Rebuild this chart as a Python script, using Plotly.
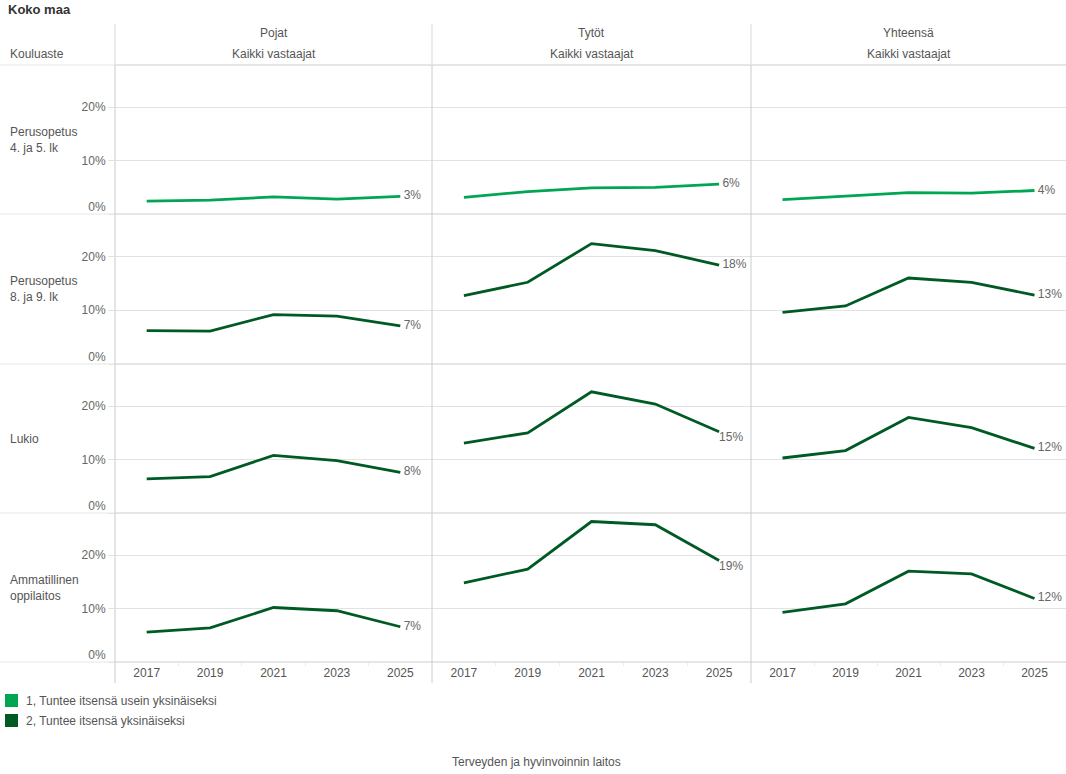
import plotly.graph_objects as go

# ---------------- data ----------------
YEARS = [2017, 2019, 2021, 2023, 2025]
GENDERS = ["Pojat", "Tytöt", "Yhteensä"]
SUBHEADER = "Kaikki vastaajat"
LEVELS = ["Perusopetus<br>4. ja 5. lk", "Perusopetus<br>8. ja 9. lk", "Lukio",
          "Ammatillinen<br>oppilaitos"]
SERIES = ["1, Tuntee itsensä usein yksinäiseksi", "2, Tuntee itsensä yksinäiseksi"]
LEVEL_SERIES = [0, 1, 1, 1]
Y_TICKS = [0, 10, 20]

# values in percent
perus45_pojat = [2.4, 2.6, 3.2, 2.8, 3.3]
perus45_tytot = [3.1, 4.2, 4.9, 5.0, 5.6]
perus45_yht = [2.7, 3.3, 4.0, 3.9, 4.4]

perus89_pojat = [6.2, 6.1, 9.2, 8.9, 7.1]
perus89_tytot = [12.7, 15.2, 22.4, 21.1, 18.4]
perus89_yht = [9.6, 10.8, 16.0, 15.2, 12.8]

lukio_pojat = [6.4, 6.8, 10.8, 9.8, 7.6]
lukio_tytot = [13.1, 15.0, 22.7, 20.4, 15.2]
lukio_yht = [10.3, 11.7, 17.9, 16.0, 12.1]

amm_pojat = [5.6, 6.4, 10.2, 9.6, 6.6]
amm_tytot = [14.8, 17.4, 26.3, 25.7, 19.0]
amm_yht = [9.3, 10.9, 17.0, 16.5, 11.9]

VALUES = [
    [perus45_pojat, perus45_tytot, perus45_yht],
    [perus89_pojat, perus89_tytot, perus89_yht],
    [lukio_pojat, lukio_tytot, lukio_yht],
    [amm_pojat, amm_tytot, amm_yht],
]

# ---------------- style / layout ----------------
W, H = 1066, 774
FONT = "Liberation Sans, Arial, sans-serif"
COLORS = ["#00A651", "#005A24"]
COL_EDGES = [115, 432, 751, 1066]
ROW_EDGES = [65, 214, 364, 513, 662]
Y_MAX = 27.9
GRID = "#e2e2e2"
LINE_DARK = "#cccccc"
LINE_LIGHT = "#e6e6e6"
TXT = "#555555"
TICK_TXT = "#666666"
BELOW_LABEL = {(2, 1), (3, 1)}


def px(x):
    return x / W


def py(y):
    return 1 - y / H


fig = go.Figure()
layout = dict(
    width=W, height=H, margin=dict(l=0, r=0, t=0, b=0, pad=0),
    paper_bgcolor="white", plot_bgcolor="white", showlegend=False,
    font=dict(family=FONT, size=12, color=TXT),
)

n_rows, n_cols = len(LEVELS), len(GENDERS)
for r in range(n_rows):
    for c in range(n_cols):
        k = r * n_cols + c + 1
        xa = f"xaxis{k}"
        ya = f"yaxis{k}"
        layout[xa] = dict(
            domain=[px(COL_EDGES[c]), px(COL_EDGES[c + 1])],
            range=[2016, 2026], anchor=f"y{k}",
            showgrid=False, zeroline=False, showline=False,
            tickvals=YEARS, ticktext=[str(y) for y in YEARS],
            showticklabels=(r == n_rows - 1),
            ticks="outside" if r == n_rows - 1 else "", ticklen=0,
            tickfont=dict(size=12, color=TXT),
            fixedrange=True,
        )
        if r == n_rows - 1:
            layout[xa]["minor"] = dict(tickvals=[2018, 2020, 2022, 2024], ticks="outside",
                                       ticklen=3, tickcolor="#ececec")
        layout[ya] = dict(
            domain=[py(ROW_EDGES[r + 1]), py(ROW_EDGES[r])],
            range=[0, Y_MAX], anchor=f"x{k}",
            tickvals=Y_TICKS,
            ticktext=["" if v == 0 else f"{v}%" for v in Y_TICKS],
            showgrid=True, gridcolor=GRID, gridwidth=1,
            zeroline=False, showline=False,
            showticklabels=(c == 0),
            ticks="outside" if c == 0 else "", ticklen=6, tickcolor=GRID,
            tickfont=dict(size=12, color=TICK_TXT),
            fixedrange=True,
        )
        vals = VALUES[r][c]
        s = LEVEL_SERIES[r]
        below = (r, c) in BELOW_LABEL
        pad = "" if below else "\u00a0"
        labels = [""] * (len(vals) - 1) + [f"{pad}{round(vals[-1])}%"]
        fig.add_trace(go.Scatter(
            x=YEARS, y=vals, mode="lines+text",
            line=dict(color=COLORS[s], width=2.8),
            text=labels,
            textposition="bottom right" if below else "middle right",
            textfont=dict(size=12, color=TICK_TXT, family=FONT),
            cliponaxis=False, name=SERIES[s],
            xaxis=f"x{k}", yaxis=f"y{k}",
            hovertemplate="%{x}: %{y:.1f}%<extra></extra>",
        ))
    # overlay axis carrying only the "0%" label, nudged up like the reference
    k0 = r * n_cols + 1
    ko = n_rows * n_cols + r + 1
    layout[f"yaxis{ko}"] = dict(
        overlaying=f"y{k0}", anchor=f"x{k0}", side="left",
        range=[0, Y_MAX], tickvals=[0], ticktext=["0%"],
        showgrid=False, zeroline=False, showline=False,
        ticks="outside", ticklen=6, tickcolor="rgba(0,0,0,0)",
        ticklabelshift=-7,
        tickfont=dict(size=12, color=TICK_TXT), fixedrange=True,
    )
    fig.add_trace(go.Scatter(x=[None], y=[None], xaxis=f"x{k0}", yaxis=f"y{ko}",
                             showlegend=False, hoverinfo="skip"))

# ---------------- shapes ----------------
shapes = []
# horizontal row separators
for y in ROW_EDGES:
    shapes.append(dict(type="line", xref="paper", yref="paper", x0=0, x1=px(COL_EDGES[0]),
                       y0=py(y), y1=py(y), line=dict(color=LINE_LIGHT, width=1)))
    shapes.append(dict(type="line", xref="paper", yref="paper", x0=px(COL_EDGES[0]), x1=1,
                       y0=py(y), y1=py(y), line=dict(color=LINE_DARK, width=1)))
# vertical column separators
for x in COL_EDGES[:-1]:
    shapes.append(dict(type="line", xref="paper", yref="paper", x0=px(x), x1=px(x),
                       y0=py(24), y1=py(ROW_EDGES[0]), line=dict(color=LINE_LIGHT, width=1.5)))
    shapes.append(dict(type="line", xref="paper", yref="paper", x0=px(x), x1=px(x),
                       y0=py(ROW_EDGES[0]), y1=py(683), line=dict(color=LINE_DARK, width=1)))
# legend swatches
for i, col in enumerate(COLORS):
    y0 = 694 + 20 * i
    shapes.append(dict(type="rect", xref="paper", yref="paper", x0=px(5), x1=px(18),
                       y0=py(y0 + 13), y1=py(y0), fillcolor=col, line=dict(width=0)))
layout["shapes"] = shapes

# ---------------- annotations ----------------
ann = []
ann.append(dict(text="<b>Koko maa</b>", x=px(6), y=py(9), xref="paper", yref="paper",
                xanchor="left", yanchor="middle", showarrow=False,
                font=dict(size=13, color="#333333", family=FONT)))
ann.append(dict(text="Kouluaste", x=px(8), y=py(54), xref="paper", yref="paper",
                xanchor="left", yanchor="middle", showarrow=False,
                font=dict(size=12, color=TXT, family=FONT)))
for c, g in enumerate(GENDERS):
    cx = px((COL_EDGES[c] + COL_EDGES[c + 1]) / 2)
    ann.append(dict(text=g, x=cx, y=py(33), xref="paper", yref="paper",
                    xanchor="center", yanchor="middle", showarrow=False,
                    font=dict(size=12, color=TXT, family=FONT)))
    ann.append(dict(text=SUBHEADER, x=cx, y=py(54), xref="paper", yref="paper",
                    xanchor="center", yanchor="middle", showarrow=False,
                    font=dict(size=12, color=TXT, family=FONT)))
for r, lev in enumerate(LEVELS):
    cy = py((ROW_EDGES[r] + ROW_EDGES[r + 1]) / 2)
    ann.append(dict(text=lev, x=px(8), y=cy, xref="paper", yref="paper",
                    xanchor="left", yanchor="middle", align="left", showarrow=False,
                    font=dict(size=12, color=TXT, family=FONT)))
for i, s in enumerate(SERIES):
    ann.append(dict(text=s, x=px(24), y=py(701 + 20 * i), xref="paper", yref="paper",
                    xanchor="left", yanchor="middle", showarrow=False,
                    font=dict(size=12, color=TXT, family=FONT)))
ann.append(dict(text="Terveyden ja hyvinvoinnin laitos", x=px(536), y=py(762),
                xref="paper", yref="paper", xanchor="center", yanchor="middle",
                showarrow=False, font=dict(size=12, color=TXT, family=FONT)))
layout["annotations"] = ann

fig.update_layout(**layout)
fig.write_html(
    "out.html",
    config={"displayModeBar": False},
    post_script="document.body.style.margin='0';document.body.style.overflow='hidden';",
)
